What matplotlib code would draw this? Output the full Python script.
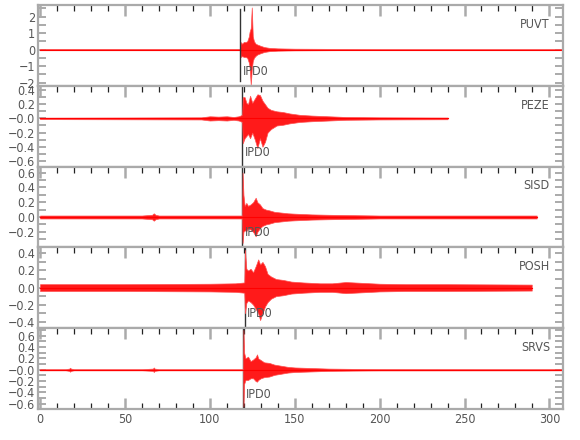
import matplotlib
matplotlib.use("Agg")
import matplotlib.pyplot as plt
from matplotlib.ticker import MultipleLocator
from matplotlib import font_manager

# ---------------- data ----------------
stations = ["PUVT", "PEZE", "SISD", "POSH", "SRVS"]
pick_label = "IPD0"
pick_times = [118.0, 119.2, 119.2, 120.5, 119.8]

puvt_t = [0, 100, 117.8, 118.2, 119, 120, 121, 122, 123, 123.4, 124.1, 124.7, 125.3, 126, 127, 128, 130, 132, 135, 140, 150, 170, 200, 250, 308]
puvt_hi = [0.04, 0.04, 0.04, 0.45, 0.35, 0.46, 0.45, 0.5, 0.8, 1.07, 1.3, 2.55, 0.8, 0.5, 0.35, 0.3, 0.22, 0.15, 0.1, 0.07, 0.05, 0.04, 0.03, 0.03, 0.03]
puvt_lo = [-0.04, -0.04, -0.04, -0.45, -0.4, -0.45, -0.45, -0.5, -0.8, -1.05, -2.15, -1.2, -0.7, -0.5, -0.38, -0.3, -0.22, -0.15, -0.1, -0.07, -0.05, -0.04, -0.03, -0.03, -0.03]

peze_t = [0, 95, 100, 105, 110, 114, 117, 119.0, 119.4, 120.5, 121.5, 122.5, 123.7, 125, 126.5, 128, 129.5, 131, 132.5, 134, 136, 139.4, 143, 147, 153, 160, 170, 180, 200, 240]
peze_hi = [0.01, 0.015, 0.03, 0.025, 0.03, 0.02, 0.03, 0.05, 0.3, 0.3, 0.22, 0.2, 0.32, 0.22, 0.28, 0.34, 0.33, 0.25, 0.2, 0.15, 0.12, 0.1, 0.09, 0.07, 0.05, 0.04, 0.03, 0.02, 0.015, 0.012]
peze_lo = [-0.01, -0.015, -0.03, -0.025, -0.03, -0.02, -0.03, -0.05, -0.35, -0.28, -0.25, -0.22, -0.28, -0.2, -0.3, -0.42, -0.28, -0.4, -0.33, -0.2, -0.15, -0.1, -0.09, -0.07, -0.05, -0.04, -0.03, -0.02, -0.015, -0.012]

sisd_t = [0, 60, 66, 67, 68, 70, 75, 100, 115, 119.0, 119.3, 119.8, 120.5, 121.5, 122.5, 124, 125.5, 127, 128, 129.5, 131, 133, 135, 138, 142, 146, 150, 160, 170, 185, 200, 250, 292.5]
sisd_hi = [0.02, 0.02, 0.03, 0.05, 0.03, 0.02, 0.02, 0.02, 0.02, 0.02, 0.6, 0.3, 0.15, 0.19, 0.15, 0.17, 0.2, 0.26, 0.2, 0.17, 0.12, 0.1, 0.09, 0.07, 0.06, 0.05, 0.045, 0.035, 0.03, 0.025, 0.02, 0.02, 0.02]
sisd_lo = [-0.02, -0.02, -0.03, -0.05, -0.03, -0.02, -0.02, -0.02, -0.02, -0.02, -0.35, -0.2, -0.18, -0.19, -0.15, -0.17, -0.2, -0.26, -0.2, -0.15, -0.12, -0.1, -0.09, -0.07, -0.06, -0.05, -0.045, -0.035, -0.03, -0.025, -0.02, -0.02, -0.02]

posh_t = [0, 50, 100, 115, 120.3, 120.7, 121.5, 122.5, 124, 125.5, 127, 128.5, 129.6, 131, 132.5, 134, 136, 139, 143, 148, 155, 165, 172, 180, 190, 200, 215, 240, 289.6]
posh_hi = [0.04, 0.04, 0.045, 0.05, 0.06, 0.44, 0.22, 0.2, 0.22, 0.18, 0.25, 0.33, 0.27, 0.3, 0.25, 0.16, 0.13, 0.1, 0.09, 0.07, 0.06, 0.05, 0.05, 0.065, 0.055, 0.045, 0.04, 0.04, 0.035]
posh_lo = [-0.04, -0.04, -0.045, -0.05, -0.06, -0.3, -0.18, -0.15, -0.17, -0.2, -0.25, -0.3, -0.38, -0.3, -0.22, -0.17, -0.13, -0.1, -0.09, -0.07, -0.06, -0.05, -0.05, -0.065, -0.055, -0.045, -0.04, -0.04, -0.035]

srvs_t = [0, 15, 17.2, 17.7, 18.2, 20, 60, 66.5, 67, 67.5, 70, 100, 119.5, 119.8, 120.2, 121, 122.5, 124, 125.5, 127, 127.8, 128.5, 130, 132, 135, 138, 142, 146, 150, 160, 170, 185, 200, 308]
srvs_hi = [0.01, 0.01, 0.02, 0.035, 0.02, 0.01, 0.01, 0.02, 0.04, 0.02, 0.01, 0.01, 0.01, 0.7, 0.3, 0.2, 0.23, 0.15, 0.18, 0.22, 0.27, 0.2, 0.17, 0.13, 0.12, 0.09, 0.07, 0.05, 0.04, 0.03, 0.02, 0.015, 0.012, 0.01]
srvs_lo = [-0.01, -0.01, -0.02, -0.035, -0.02, -0.01, -0.01, -0.02, -0.04, -0.02, -0.01, -0.01, -0.01, -0.65, -0.25, -0.18, -0.18, -0.15, -0.15, -0.2, -0.21, -0.18, -0.15, -0.13, -0.12, -0.09, -0.07, -0.05, -0.04, -0.03, -0.02, -0.015, -0.012, -0.01]

traces = [(puvt_t, puvt_hi, puvt_lo), (peze_t, peze_hi, peze_lo), (sisd_t, sisd_hi, sisd_lo),
          (posh_t, posh_hi, posh_lo), (srvs_t, srvs_hi, srvs_lo)]

ylims = [(-2.2, 2.7), (-0.68, 0.46), (-0.41, 0.68), (-0.475, 0.47), (-0.69, 0.73)]
ytick_vals = [[-2, -1, 0, 1, 2],
              [-0.6, -0.4, -0.2, 0.0, 0.2, 0.4],
              [-0.2, 0.0, 0.2, 0.4, 0.6],
              [-0.4, -0.2, 0.0, 0.2, 0.4],
              [-0.6, -0.4, -0.2, 0.0, 0.2, 0.4, 0.6]]
ytick_text = [["\u22122", "\u22121", "0", "1", "2"],
              ["\u22120.6", "\u22120.4", "\u22120.2", "\u22120.0", "0.2", "0.4"],
              ["\u22120.2", "0.0", "0.2", "0.4", "0.6"],
              ["\u22120.4", "\u22120.2", "0.0", "0.2", "0.4"],
              ["\u22120.6", "\u22120.4", "\u22120.2", "\u22120.0", "0.2", "0.4", "0.6"]]
yminor = [0.5, 0.1, 0.1, 0.1, 0.1]
xticks = [0, 50, 100, 150, 200, 250, 300]
xlim = (-1.2, 308)

# ---------------- style ----------------
names = {f.name for f in font_manager.fontManager.ttflist}
cond = [f for f in font_manager.fontManager.ttflist
        if f.name == "DejaVu Sans" and "ondensed" in str(f.stretch).lower() + f.fname.lower()]
if "Liberation Sans Narrow" in names:
    plt.rcParams["font.family"] = ["Liberation Sans Narrow", "DejaVu Sans"]
else:
    plt.rcParams["font.family"] = ["DejaVu Sans"]
    if cond:
        plt.rcParams["font.stretch"] = "condensed"
FS = 9
txt_col = "#555555"
ax_col = "#aaaaaa"

fig = plt.figure(figsize=(5.8, 4.4), dpi=100)
gs = fig.add_gridspec(5, 1, left=38/580, right=563/580, bottom=1-409/440, top=1-5/440, hspace=0)

for i, (name, (t, hi, lo)) in enumerate(zip(stations, traces)):
    ax = fig.add_subplot(gs[i])
    ax.fill_between(t, lo, hi, color="#ff1a1a", linewidth=0.5, edgecolor="#ff5050", zorder=2)
    ax.plot(t, [0] * len(t), color="#ff0000", lw=0.8, zorder=2)
    if i == 0:
        ax.axvline(pick_times[i], ymin=0.06, ymax=0.95, color="#333333", lw=1.0, zorder=3)
    else:
        ax.axvline(pick_times[i], color="#333333", lw=1.0, zorder=1)
    ax.text(pick_times[i] + 1.3, 0.18, pick_label, transform=ax.get_xaxis_transform(),
            ha="left", va="center", fontsize=FS, color=txt_col)
    ax.text(0.975, 0.76, name, transform=ax.transAxes, ha="right", va="center",
            fontsize=FS, color=txt_col)
    ax.set_xlim(*xlim)
    ax.set_ylim(*ylims[i])
    ax.set_yticks(ytick_vals[i], ytick_text[i])
    ax.yaxis.set_minor_locator(MultipleLocator(yminor[i]))
    ax.tick_params(axis="y", which="both", direction="in", length=6, width=1.4, color=ax_col,
                   left=True, right=True, labelsize=FS, labelcolor=txt_col, pad=2)
    ax.set_xticks(xticks)
    ax.xaxis.set_minor_locator(MultipleLocator(10))
    last = (i == len(stations) - 1)
    ax.tick_params(axis="x", which="major", direction="in", length=8, width=1.8, color=ax_col,
                   top=True, bottom=last, labelbottom=last, labelsize=FS, labelcolor=txt_col, pad=3)
    ax.tick_params(axis="x", which="minor", direction="in", length=4, width=0.9, color="#222222",
                   top=True, bottom=last)
    for s in ax.spines.values():
        s.set_color(ax_col)
        s.set_linewidth(1.6)

fig.savefig("out.png", dpi=100)
